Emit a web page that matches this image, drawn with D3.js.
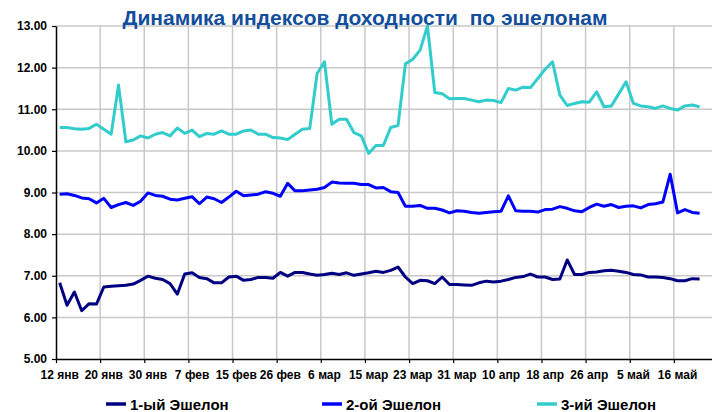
<!DOCTYPE html>
<html>
<head>
<meta charset="utf-8">
<script src="https://cdn.jsdelivr.net/npm/d3@7"></script>
<style>
  body { margin: 0; background: #fff; }
  svg { display: block; }
  text { font-family: "Liberation Sans", Arial, sans-serif; }
</style>
</head>
<body>
<svg id="chart" width="712" height="412"></svg>
<script>
// labels shown on every 6th trading day
const tickLabels = ['12 янв', '20 янв', '30 янв', '7 фев', '15 фев', '26 фев', '6 мар',
  '15 мар', '23 мар', '31 мар', '10 апр', '18 апр', '26 апр', '5 май', '16 май'];

const echelon1 = [
  6.83, 6.29, 6.61, 6.16, 6.33, 6.32, 6.73, 6.75, 6.76, 6.77,
  6.80, 6.89, 6.99, 6.94, 6.91, 6.81, 6.56, 7.04, 7.07, 6.96,
  6.93, 6.83, 6.83, 6.97, 6.99, 6.89, 6.91, 6.96, 6.96, 6.94,
  7.08, 6.99, 7.08, 7.08, 7.04, 7.01, 7.03, 7.06, 7.03, 7.07,
  7.01, 7.04, 7.07, 7.11, 7.08, 7.13, 7.21, 6.97, 6.81, 6.89,
  6.88, 6.81, 6.97, 6.79, 6.79, 6.78, 6.77, 6.83, 6.87, 6.85,
  6.87, 6.91, 6.96, 6.98, 7.04, 6.97, 6.97, 6.91, 6.92, 7.38,
  7.03, 7.03, 7.08, 7.09, 7.12, 7.13, 7.11, 7.08, 7.03, 7.02,
  6.97, 6.97, 6.96, 6.93, 6.88, 6.88, 6.93, 6.92
];
const echelon2 = [
  8.96, 8.97, 8.93, 8.87, 8.85, 8.75, 8.86, 8.64, 8.71, 8.76,
  8.69, 8.79, 8.99, 8.93, 8.91, 8.84, 8.82, 8.86, 8.90, 8.73,
  8.89, 8.85, 8.76, 8.89, 9.03, 8.92, 8.94, 8.96, 9.02, 8.98,
  8.91, 9.22, 9.04, 9.04, 9.06, 9.08, 9.12, 9.25, 9.23, 9.22,
  9.22, 9.19, 9.19, 9.11, 9.12, 9.02, 9.00, 8.67, 8.67, 8.69,
  8.62, 8.62, 8.58, 8.51, 8.56, 8.55, 8.52, 8.50, 8.52, 8.54,
  8.55, 8.92, 8.56, 8.55, 8.55, 8.53, 8.59, 8.60, 8.66, 8.62,
  8.56, 8.54, 8.64, 8.72, 8.67, 8.71, 8.64, 8.67, 8.68, 8.63,
  8.71, 8.73, 8.77, 9.44, 8.51, 8.59, 8.52, 8.50
];
const echelon3 = [
  10.56, 10.56, 10.53, 10.52, 10.54, 10.64, 10.52, 10.40, 11.58, 10.22,
  10.26, 10.36, 10.31, 10.40, 10.44, 10.36, 10.55, 10.42, 10.50, 10.34,
  10.42, 10.40, 10.48, 10.40, 10.40, 10.48, 10.50, 10.40, 10.40, 10.32,
  10.31, 10.27, 10.40, 10.52, 10.54, 11.86, 12.14, 10.64, 10.76, 10.76,
  10.44, 10.36, 9.94, 10.13, 10.13, 10.56, 10.61, 12.09, 12.20, 12.42,
  13.00, 11.40, 11.37, 11.25, 11.26, 11.26, 11.22, 11.18, 11.22, 11.21,
  11.16, 11.50, 11.46, 11.53, 11.52, 11.74, 11.96, 12.14, 11.34, 11.09,
  11.14, 11.18, 11.17, 11.42, 11.06, 11.08, 11.37, 11.66, 11.14, 11.08,
  11.06, 11.02, 11.08, 11.02, 10.98, 11.08, 11.10, 11.06
];

const seriesNames = ['1-ый Эшелон', '2-ой Эшелон', '3-ий Эшелон'];
const seriesColors = ['#000080', '#0000ff', '#33cccc'];

const MARGIN = { top: 26, left: 56 };
const WIDTH = 662;   // runs a little past the picture edge, like the source
const HEIGHT = 333;
const SLOTS = 90;    // category slots on the axis (last two are empty)
const STEP = 6;      // categories between gridlines / labels

const series = [echelon1, echelon2, echelon3].map((values, i) => ({
  name: seriesNames[i], color: seriesColors[i], values
}));

const svg = d3.select('#chart');

const x = d3.scaleBand()
  .domain(d3.range(SLOTS))
  .range([MARGIN.left, MARGIN.left + WIDTH]);
const xEdge = d3.scaleLinear()
  .domain([0, SLOTS])
  .range([MARGIN.left, MARGIN.left + WIDTH]);
const y = d3.scaleLinear()
  .domain([5, 13])
  .range([MARGIN.top + HEIGHT, MARGIN.top]);

// gridlines
const grid = svg.append('g').attr('class', 'grid');
grid.selectAll('line.h')
  .data(d3.range(6, 14))
  .join('line')
  .attr('class', 'h')
  .attr('x1', MARGIN.left).attr('x2', MARGIN.left + WIDTH)
  .attr('y1', d => y(d)).attr('y2', d => y(d))
  .attr('stroke', '#c8c8c8')
  .attr('stroke-width', 1.5);
grid.selectAll('line.v')
  .data(d3.range(STEP, SLOTS + 1, STEP))
  .join('line')
  .attr('class', 'v')
  .attr('x1', d => xEdge(d)).attr('x2', d => xEdge(d))
  .attr('y1', MARGIN.top).attr('y2', MARGIN.top + HEIGHT)
  .attr('stroke', '#c8c8c8')
  .attr('stroke-width', 1.5);

// y axis
const yAxis = svg.append('g')
  .attr('transform', `translate(${MARGIN.left},0)`)
  .call(d3.axisLeft(y)
    .tickValues(d3.range(5, 14))
    .tickFormat(d3.format('.2f'))
    .tickSize(4)
    .tickSizeOuter(0)
    .tickPadding(5));
yAxis.selectAll('text')
  .attr('font-size', '12px')
  .attr('font-weight', 'bold')
  .attr('fill', '#000')
  .style('font-family', '"Liberation Sans", Arial, sans-serif');

// x axis: tick marks on slot edges, labels centred on categories
const xTicks = svg.append('g')
  .attr('transform', `translate(0,${MARGIN.top + HEIGHT})`)
  .call(d3.axisBottom(xEdge)
    .tickValues(d3.range(0, SLOTS + 1, STEP))
    .tickFormat('')
    .tickSize(4)
    .tickSizeOuter(0));

const xLabels = svg.append('g')
  .attr('transform', `translate(0,${MARGIN.top + HEIGHT})`)
  .call(d3.axisBottom(x)
    .tickValues(tickLabels.map((d, i) => i * STEP))
    .tickFormat(i => tickLabels[i / STEP])
    .tickSize(0)
    .tickPadding(11));
xLabels.select('.domain').remove();
xLabels.selectAll('text')
  .attr('font-size', '12px')
  .attr('font-weight', 'bold')
  .attr('fill', '#000')
  .style('font-family', '"Liberation Sans", Arial, sans-serif');

[yAxis, xTicks].forEach(g => {
  g.select('.domain').attr('stroke', '#000').attr('stroke-width', 1.5);
  g.selectAll('.tick line').attr('stroke', '#000').attr('stroke-width', 1.2);
});

// lines
const line = d3.line()
  .x((d, i) => x(i) + x.bandwidth() / 2)
  .y(d => y(d));

svg.append('g').attr('class', 'lines')
  .selectAll('path')
  .data(series)
  .join('path')
  .attr('d', d => line(d.values))
  .attr('fill', 'none')
  .attr('stroke', d => d.color)
  .attr('stroke-width', 3)
  .attr('stroke-linejoin', 'round');

// title
svg.append('text')
  .attr('x', 365)
  .attr('y', 25)
  .attr('text-anchor', 'middle')
  .attr('font-size', '21px')
  .attr('font-weight', 'bold')
  .attr('fill', '#124e9c')
  .text('Динамика индексов доходности  по эшелонам')
  .style('white-space', 'pre');

// legend
const legendX = [106, 322, 537];
const legend = svg.append('g').attr('class', 'legend')
  .selectAll('g')
  .data(series)
  .join('g')
  .attr('transform', (d, i) => `translate(${legendX[i]},404)`);
legend.append('line')
  .attr('x1', 0).attr('x2', 20)
  .attr('stroke', d => d.color)
  .attr('stroke-width', 3.5);
legend.append('text')
  .attr('x', 24)
  .attr('y', 5.5)
  .attr('font-size', '15px')
  .attr('font-weight', 'bold')
  .attr('fill', '#000')
  .text(d => d.name);
</script>
</body>
</html>
